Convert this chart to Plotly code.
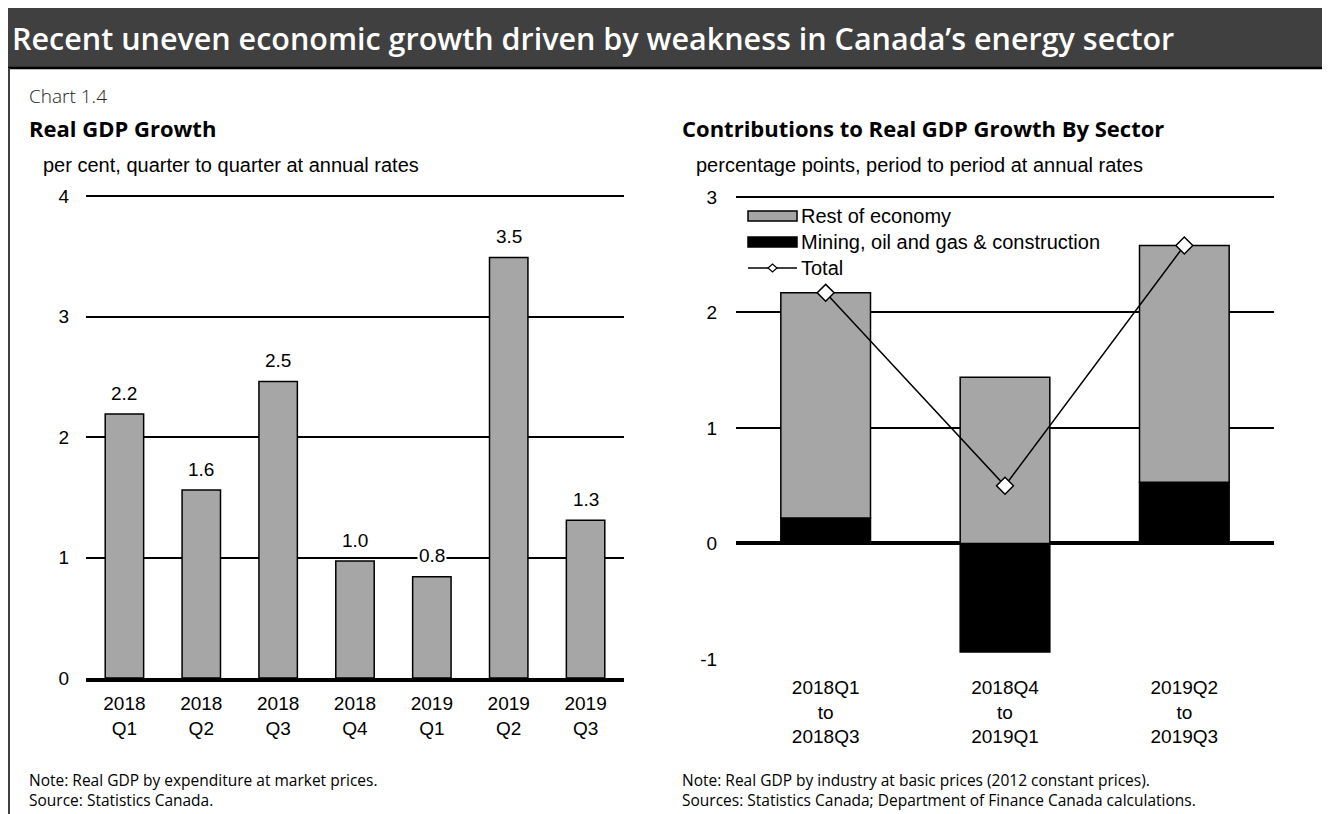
import plotly.graph_objects as go

W, H = 1330, 814
OFF = 8  # the page body adds an 8px margin round the figure

# left panel: real GDP growth, per cent q/q at annual rates
quarters = ["2018<br>Q1", "2018<br>Q2", "2018<br>Q3", "2018<br>Q4",
            "2019<br>Q1", "2019<br>Q2", "2019<br>Q3"]
gdp_growth = [2.19, 1.56, 2.46, 0.97, 0.84, 3.49, 1.31]
left_ticks = [0, 1, 2, 3, 4]

# right panel: contributions by sector, percentage points
periods = ["2018Q1<br>to<br>2018Q3", "2018Q4<br>to<br>2019Q1", "2019Q2<br>to<br>2019Q3"]
rest_of_economy = [1.95, 1.44, 2.05]
mining_oil_gas = [0.22, -0.94, 0.53]
total = [2.17, 0.50, 2.58]
right_ticks = [-1, 0, 1, 2, 3]

GREY = "#A6A6A6"
ARIAL = "Liberation Sans"
SEGOE = "Open Sans"


def px(x):
    return (x - OFF) / W


def py(y):
    return 1 - (y - OFF) / H


fig = go.Figure()

fig.add_trace(go.Bar(x=quarters, y=gdp_growth, xaxis="x", yaxis="y",
                     marker=dict(color=GREY, line=dict(color="black", width=1.5)),
                     showlegend=False))

fig.add_trace(go.Bar(x=periods, y=mining_oil_gas, xaxis="x2", yaxis="y2",
                     name="Mining, oil and gas & construction",
                     marker=dict(color="black", line=dict(color="black", width=1.5)),
                     showlegend=False))
fig.add_trace(go.Bar(x=periods, y=rest_of_economy, xaxis="x2", yaxis="y2",
                     name="Rest of economy",
                     marker=dict(color=GREY, line=dict(color="black", width=1.5)),
                     showlegend=False))
fig.add_trace(go.Scatter(x=periods, y=total, xaxis="x2", yaxis="y2", name="Total",
                         mode="lines+markers",
                         line=dict(color="black", width=1.5),
                         marker=dict(symbol="diamond", size=13, color="white",
                                     line=dict(color="black", width=1.5)),
                         showlegend=False))

# value labels above the left bars
annotations = []
for q, v in zip(quarters, gdp_growth):
    annotations.append(dict(x=q, y=v, xref="x", yref="y", text=f"{v:.1f}",
                            showarrow=False, yshift=21, bgcolor="white",
                            font=dict(family=ARIAL, size=19, color="black")))


def label(x, y, text, size, family=SEGOE, color="black", weight="normal"):
    annotations.append(dict(x=px(x), y=py(y), xref="paper", yref="paper", text=text,
                            showarrow=False, xanchor="left", yanchor="middle",
                            font=dict(family=family, size=size, color=color, weight=weight)))


label(10, 38, "Recent uneven economic growth driven by weakness in Canada\u2019s energy sector",
      30.5, color="white", weight=600)
label(27, 96, "Chart 1.4", 19, color="#222222", weight=300)
label(27, 128, "Real GDP Growth", 22, weight="bold")
label(41, 165, "per cent, quarter to quarter at annual rates", 20, family=ARIAL)
label(680, 128, "Contributions to Real GDP Growth By Sector", 22, weight="bold")
label(694, 165, "percentage points, period to period at annual rates", 20, family=ARIAL)
label(27, 780, "Note: Real GDP by expenditure at market prices.", 15.5)
label(27, 800, "Source: Statistics Canada.", 15.5)
label(680, 780, "Note: Real GDP by industry at basic prices (2012 constant prices).", 15.5)
label(680, 800, "Sources: Statistics Canada; Department of Finance Canada calculations.", 15.5)

# custom legend for the right panel
label(799, 216, "Rest of economy", 20, family=ARIAL)
label(799, 242, "Mining, oil and gas & construction", 20, family=ARIAL)
label(799, 268, "Total", 20, family=ARIAL)

shapes = [
    # header band and frame
    dict(type="rect", xref="paper", yref="paper", x0=px(0), x1=1, y0=py(68), y1=py(7),
         fillcolor="#404040", line=dict(width=0), layer="below"),
    dict(type="line", xref="paper", yref="paper", x0=px(0), x1=1, y0=py(68), y1=py(68),
         line=dict(color="black", width=2.5)),
    dict(type="line", xref="paper", yref="paper", x0=px(9), x1=px(9), y0=py(68), y1=0,
         line=dict(color="#404040", width=2)),
    dict(type="line", xref="paper", yref="paper", x0=px(1328), x1=px(1328), y0=py(68), y1=0,
         line=dict(color="#404040", width=2)),
    # legend keys
    dict(type="rect", xref="paper", yref="paper", x0=px(748), x1=px(797), y0=py(221), y1=py(211),
         fillcolor=GREY, line=dict(color="black", width=1.5)),
    dict(type="rect", xref="paper", yref="paper", x0=px(748), x1=px(797), y0=py(247), y1=py(237),
         fillcolor="black", line=dict(color="black", width=1.5)),
    dict(type="line", xref="paper", yref="paper", x0=px(748), x1=px(797), y0=py(268), y1=py(268),
         line=dict(color="black", width=1.5)),
    dict(type="path", xref="paper", yref="paper",
         path=f"M {px(768)},{py(268)} L {px(772.5)},{py(264)} L {px(777)},{py(268)} "
              f"L {px(772.5)},{py(272)} Z",
         fillcolor="white", line=dict(color="black", width=1.2)),
]

axis_font = dict(family=ARIAL, size=19, color="black")
no_tick = "rgba(0,0,0,0)"

fig.update_layout(
    width=W, height=H,
    margin=dict(l=0, r=0, t=0, b=0, autoexpand=False),
    paper_bgcolor="white", plot_bgcolor="white",
    barmode="relative", bargap=0.5,
    showlegend=False,
    annotations=annotations,
    shapes=shapes,
    xaxis=dict(domain=[px(86), px(624)], anchor="y", type="category", automargin=False,
               showline=True, linecolor="black", linewidth=4,
               showgrid=False, tickfont=axis_font, ticks="outside", ticklen=5,
               tickcolor=no_tick),
    yaxis=dict(domain=[py(678), py(194.8)], anchor="x", range=[0, 4.01], automargin=False,
               tickvals=left_ticks, ticktext=[str(t) for t in left_ticks],
               showgrid=True, gridcolor="black", gridwidth=1.5, zeroline=False,
               showline=False, tickfont=axis_font, ticks="outside", ticklen=12,
               tickcolor=no_tick),
    xaxis2=dict(domain=[px(736), px(1274)], anchor="y2", type="category", automargin=False,
                showline=False, showgrid=False, tickfont=axis_font,
                ticks="outside", ticklen=11, tickcolor=no_tick),
    yaxis2=dict(domain=[py(659), py(195.8)], anchor="x2", range=[-1, 3.01], automargin=False,
                tickvals=right_ticks, ticktext=[str(t) for t in right_ticks],
                showgrid=True, gridcolor="black", gridwidth=1.5,
                zeroline=True, zerolinecolor="black", zerolinewidth=3.5,
                showline=False, tickfont=axis_font, ticks="outside", ticklen=14,
                tickcolor=no_tick),
)

fig.write_html("out.html")
